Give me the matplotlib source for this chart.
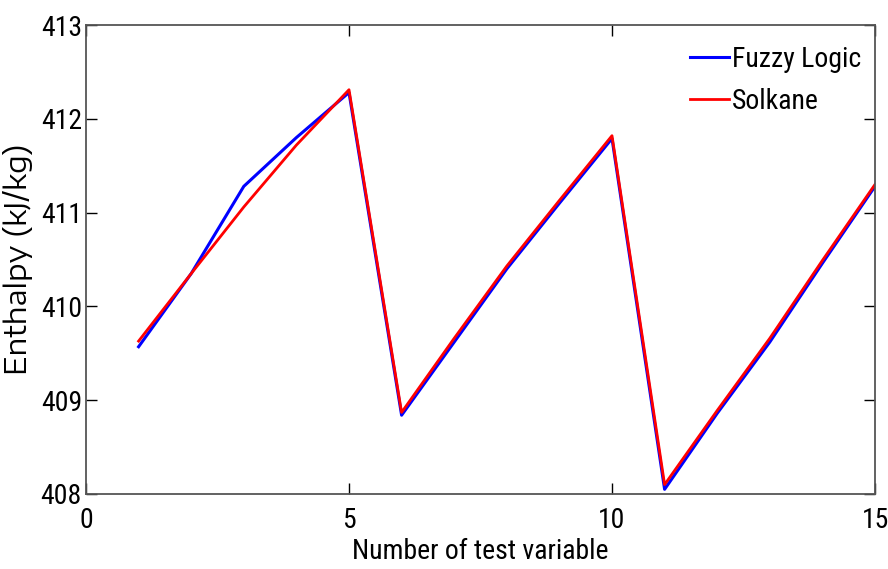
import numpy as np
import matplotlib.pyplot as plt
from matplotlib import font_manager

# pick a narrow sans font (MATLAB-like squeezed Helvetica look)
names = {f.name for f in font_manager.fontManager.ttflist}
narrow = None
for cand in ['Liberation Sans Narrow', 'Arial Narrow', 'Roboto Condensed', 'Archivo Narrow',
             'PT Sans Narrow', 'Open Sans Condensed', 'Encode Sans Condensed']:
    if cand in names:
        narrow = cand
        break
if narrow is None:
    narrow = 'DejaVu Sans'
# y label in the reference looks stretched the other way (wide letters)
wide = 'DejaVu Sans'
for cand in ['Encode Sans Expanded', 'Encode Sans Semi Expanded', 'Arimo']:
    if cand in names:
        wide = cand
        break
plt.rcParams['font.family'] = [narrow, 'DejaVu Sans']
plt.rcParams['font.stretch'] = 'condensed'

# DATA
test_no = [1, 2, 3, 4, 5, 6, 7, 8, 9, 10, 11, 12, 13, 14, 15]
fuzzy = [409.57, 410.35, 411.28, 411.80, 412.28, 408.84, 409.62, 410.40, 411.10, 411.79,
         408.05, 408.86, 409.62, 410.46, 411.28]
solkane = [409.63, 410.35, 411.06, 411.72, 412.31, 408.87, 409.66, 410.43, 411.13, 411.82,
           408.10, 408.89, 409.66, 410.49, 411.30]

fig = plt.figure(figsize=(8.88, 5.69), dpi=100)
ax = fig.add_axes([86 / 888, 1 - 494 / 569, (875 - 86) / 888, (494 - 25) / 569])

ax.plot(test_no, fuzzy, color='#0000ff', lw=2.2, label='Fuzzy Logic')
ax.plot(test_no, solkane, color='#ff0000', lw=2.0, label='Solkane')

ax.set_xlim(0, 15)
ax.set_ylim(408, 413)
ax.set_xticks([0, 5, 10, 15])
ax.set_yticks([408, 409, 410, 411, 412, 413])
ax.tick_params(direction='in', top=True, right=True, labelsize=20, length=8, width=1)
ax.tick_params(axis='x', pad=9)
ax.tick_params(axis='y', pad=3)
for s in ax.spines.values():
    s.set_color('#555555')
    s.set_linewidth(1.3)

ax.set_xlabel('Number of test variable', fontsize=20, labelpad=3)
yl = ax.set_ylabel('Enthalpy (kJ/kg)', fontsize=19, family=[wide, 'DejaVu Sans'],
                   fontstretch='normal')
# size the y label so that it spans about 235 px like the reference
fig.canvas.draw()
h = yl.get_window_extent().height
yl.set_fontsize(19 * 232 / h)
ax.yaxis.set_label_coords((33 - 86) / 789, 0.5)

leg = ax.legend(loc='upper right', bbox_to_anchor=(1.0, 0.985), fontsize=20, frameon=False,
                handlelength=1.4, handletextpad=0.1, labelspacing=0.55, borderaxespad=0.1)

fig.savefig('out.png', dpi=100)
